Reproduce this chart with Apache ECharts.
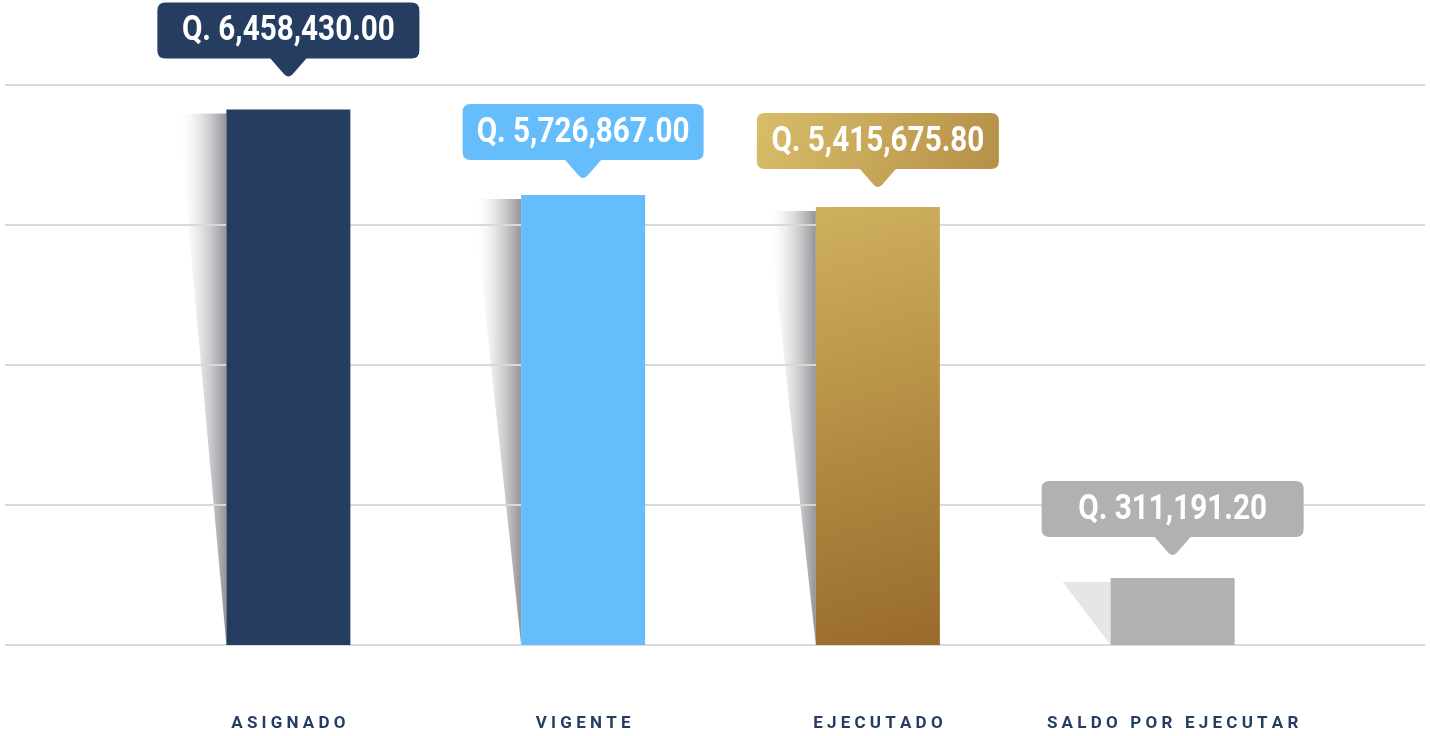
<!DOCTYPE html>
<html>
<head>
<meta charset="utf-8">
<script src="https://cdn.jsdelivr.net/npm/echarts@6/dist/echarts.min.js"></script>
<style>
  html, body { margin: 0; padding: 0; background: #fff; }
  #chart { width: 1430px; height: 736px; }
</style>
</head>
<body>
<div id="chart"></div>
<script>
// datos
const categories = ['ASIGNADO', 'VIGENTE', 'EJECUTADO', 'SALDO POR EJECUTAR'];
const amounts = [6458430.00, 5726867.00, 5415675.80, 311191.20];
// alturas de barra tal como se dibujan (en pasos de la cuadricula, no proporcionales al monto)
const barHeights = [3.825, 3.214, 3.129, 0.479];
const gridSteps = 4;

// estilos
const navy = '#243d61';
const sky = '#66bdfc';
const grey = '#b1b1b1';
const goldBar = new echarts.graphic.LinearGradient(0, 0, 1, 1, [
  { offset: 0, color: '#cfb15d' },
  { offset: 1, color: '#986a2b' }
]);
const goldBox = new echarts.graphic.LinearGradient(0, 0, 1, 1, [
  { offset: 0, color: '#d8bd69' },
  { offset: 1, color: '#b58f47' }
]);
const barColors = [navy, sky, goldBar, grey];
const boxColors = [navy, sky, goldBox, grey];
const calloutGap = [31, 15, 18, 21];
const calloutWidth = [262, 241, 242, 262];
const boxH = 56, pointerH = 20;
const labelFont = 'bold 35px Roboto, "DejaVu Sans", sans-serif';

const fmt = v => 'Q. ' + v.toLocaleString('en-US', { minimumFractionDigits: 2, maximumFractionDigits: 2 });

// la fuente original es condensada: se estrecha el texto horizontalmente
const ctx = document.createElement('canvas').getContext('2d');
ctx.font = labelFont;
const textScaleX = 213 / ctx.measureText(fmt(amounts[1])).width;

const chart = echarts.init(document.getElementById('chart'));

function calloutPath(cx, tip, w) {
  const bottom = tip - pointerH;
  const top = bottom - boxH;
  const x0 = cx - w / 2, x1 = cx + w / 2, r = 8, pw = 18;
  return `M${x0 + r},${top} H${x1 - r} Q${x1},${top} ${x1},${top + r} V${bottom - r} Q${x1},${bottom} ${x1 - r},${bottom}` +
    ` H${cx + pw} L${cx + 4},${tip - 4} Q${cx},${tip} ${cx - 4},${tip - 4} L${cx - pw},${bottom}` +
    ` H${x0 + r} Q${x0},${bottom} ${x0},${bottom - r} V${top + r} Q${x0},${top} ${x0 + r},${top} Z`;
}

const option = {
  animation: false,
  grid: [
    { left: 5, right: 5, top: 85, bottom: 91 },
    { left: 141, right: 110, top: 85, bottom: 91 }
  ],
  xAxis: [
    { gridIndex: 0, type: 'value', show: false, min: 0, max: 1 },
    {
      gridIndex: 1,
      type: 'category',
      data: categories,
      axisLine: { show: false },
      axisTick: { show: false },
      axisLabel: {
        interval: 0,
        margin: 70,
        fontSize: 17,
        fontWeight: 'bold',
        fontFamily: 'Roboto, sans-serif',
        color: navy,
        formatter: s => s.split('').join(' ')
      }
    }
  ],
  yAxis: [
    {
      gridIndex: 0, type: 'value', min: 0, max: gridSteps, interval: 1,
      axisLine: { show: false }, axisTick: { show: false }, axisLabel: { show: false },
      splitLine: { lineStyle: { color: '#d9d9d9', width: 2 } },
      z: 3
    },
    {
      gridIndex: 1, type: 'value', min: 0, max: gridSteps, interval: 1,
      axisLine: { show: false }, axisTick: { show: false }, axisLabel: { show: false },
      splitLine: { show: false }
    }
  ],
  series: [
    {
      // sombra a la izquierda de cada barra
      type: 'custom',
      xAxisIndex: 1, yAxisIndex: 1,
      z: 1,
      data: barHeights.map((h, i) => [i, h]),
      renderItem(params, api) {
        const i = params.dataIndex;
        const top = api.coord([api.value(0), api.value(1)]);
        const base = api.coord([api.value(0), 0]);
        const left = top[0] - 62;
        const fill = i === 3 ? '#e6e6e6' : new echarts.graphic.LinearGradient(0, 0, 1, 0, [
          { offset: 0, color: 'rgba(255,255,255,0)' },
          { offset: 0.5, color: 'rgba(150,150,155,0.3)' },
          { offset: 1, color: 'rgba(100,100,108,0.7)' }
        ]);
        return {
          type: 'polygon',
          shape: { points: [[left, top[1] + 4], [left - 48, top[1] + 4], [left, base[1]]] },
          style: { fill }
        };
      }
    },
    {
      type: 'bar',
      xAxisIndex: 1, yAxisIndex: 1,
      z: 4,
      barWidth: 124,
      data: barHeights.map((h, i) => ({ value: h, itemStyle: { color: barColors[i] } }))
    },
    {
      // etiquetas con el monto
      type: 'custom',
      xAxisIndex: 1, yAxisIndex: 1,
      z: 5,
      data: barHeights.map((h, i) => [i, h]),
      renderItem(params, api) {
        const i = params.dataIndex;
        const top = api.coord([api.value(0), api.value(1)]);
        const cx = top[0];
        const tip = top[1] - calloutGap[i];
        return {
          type: 'group',
          children: [
            {
              type: 'path',
              shape: { pathData: calloutPath(cx, tip, calloutWidth[i]) },
              style: { fill: boxColors[i] }
            },
            {
              type: 'text',
              x: cx,
              y: tip - pointerH - boxH / 2 + 1,
              scaleX: textScaleX,
              style: {
                text: fmt(amounts[i]),
                font: labelFont,
                fill: '#ffffff',
                align: 'center',
                verticalAlign: 'middle'
              }
            }
          ]
        };
      }
    }
  ]
};

chart.setOption(option);
</script>
</body>
</html>
